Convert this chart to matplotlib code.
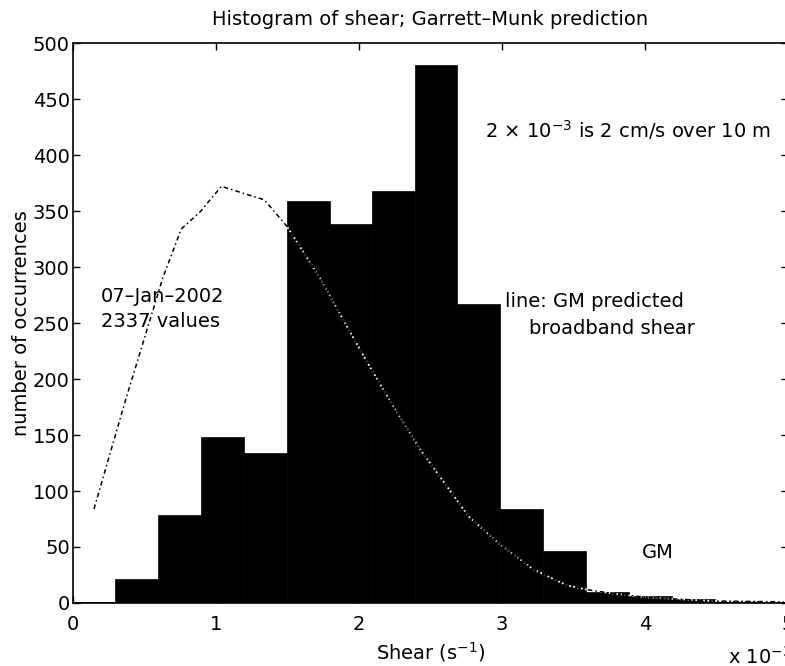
"""Histogram of shear with the Garrett-Munk predicted broadband shear."""

import matplotlib
matplotlib.use("Agg")
import matplotlib.pyplot as plt
import numpy as np

plt.rcParams["font.family"] = ["DejaVu Sans"]
plt.rcParams["mathtext.fontset"] = "dejavusans"
plt.rcParams["mathtext.default"] = "regular"

# histogram bins (shear, units of 1e-3 s^-1) and counts
bin_edges = [0.0, 0.30, 0.60, 0.90, 1.20, 1.50, 1.80, 2.09, 2.39, 2.69,
             2.99, 3.29, 3.59, 3.89, 4.19, 4.49, 4.79, 5.09]
counts = [1, 21, 79, 148, 134, 359, 338, 368, 480, 267,
          84, 46, 10, 6, 4, 2, 1]

# GM predicted broadband shear curve
gm_shear = [0.15, 0.37, 0.63, 0.76, 0.89, 1.04, 1.34, 1.50, 1.73, 1.90,
            2.05, 2.22, 2.43, 2.77, 2.98, 3.22, 3.45, 3.59, 3.77, 4.01,
            4.47, 4.97]
gm_counts = [84, 181, 290, 334, 349, 372, 360, 336, 290, 251,
             217, 180, 137, 77, 53, 30, 16, 12, 8.6, 5,
             1.8, 1]

FS = 14

fig = plt.figure(figsize=(7.85, 6.66), dpi=100)
ax = fig.add_axes([0.0924, 0.0946, 0.9115, 0.8408])

edges = np.asarray(bin_edges)
ax.bar(edges[:-1], counts, width=np.diff(edges), align="edge",
       color="black", edgecolor="black", linewidth=0.5, zorder=1)

# the curve reads black over white and white over the black bars
ax.plot(gm_shear, gm_counts, color="white", linestyle=(0, (1, 1.2)),
        linewidth=1.3, zorder=2)
ax.plot(gm_shear, gm_counts, color="black", linestyle=(0, (3, 2, 1, 2)),
        linewidth=1.1, zorder=3)

ax.set_xlim(0, 5)
ax.set_ylim(0, 500)
ax.set_xticks(range(0, 6))
ax.set_yticks(range(0, 501, 50))
ax.tick_params(direction="in", top=True, right=True, length=5,
               width=1, labelsize=FS)
ax.tick_params(axis="x", pad=9)
ax.tick_params(axis="y", pad=2)
for side in ax.spines.values():
    side.set_linewidth(1.2)

ax.set_title("Histogram of shear; Garrett–Munk prediction", fontsize=FS,
             pad=13)
ax.set_xlabel("Shear (s$^{-1}$)", fontsize=FS, labelpad=4)
ax.set_ylabel("number of occurrences", fontsize=FS, labelpad=1)

ax.text(2.88, 422, "2 × 10$^{-3}$ is 2 cm/s over 10 m", fontsize=FS,
        va="center", ha="left")
ax.text(3.02, 269, "line: GM predicted", fontsize=FS, va="center", ha="left")
ax.text(3.19, 245, "broadband shear", fontsize=FS, va="center", ha="left")
ax.text(0.20, 274, "07–Jan–2002", fontsize=FS, va="center", ha="left")
ax.text(0.20, 251, "2337 values", fontsize=FS, va="center", ha="left")
ax.text(3.98, 45, "GM", fontsize=FS, va="center", ha="left")

fig.text(728 / 785, 1 - 657 / 666, "x 10$^{-3}$", fontsize=FS,
         va="center", ha="left")

fig.savefig("out.png", dpi=100)
